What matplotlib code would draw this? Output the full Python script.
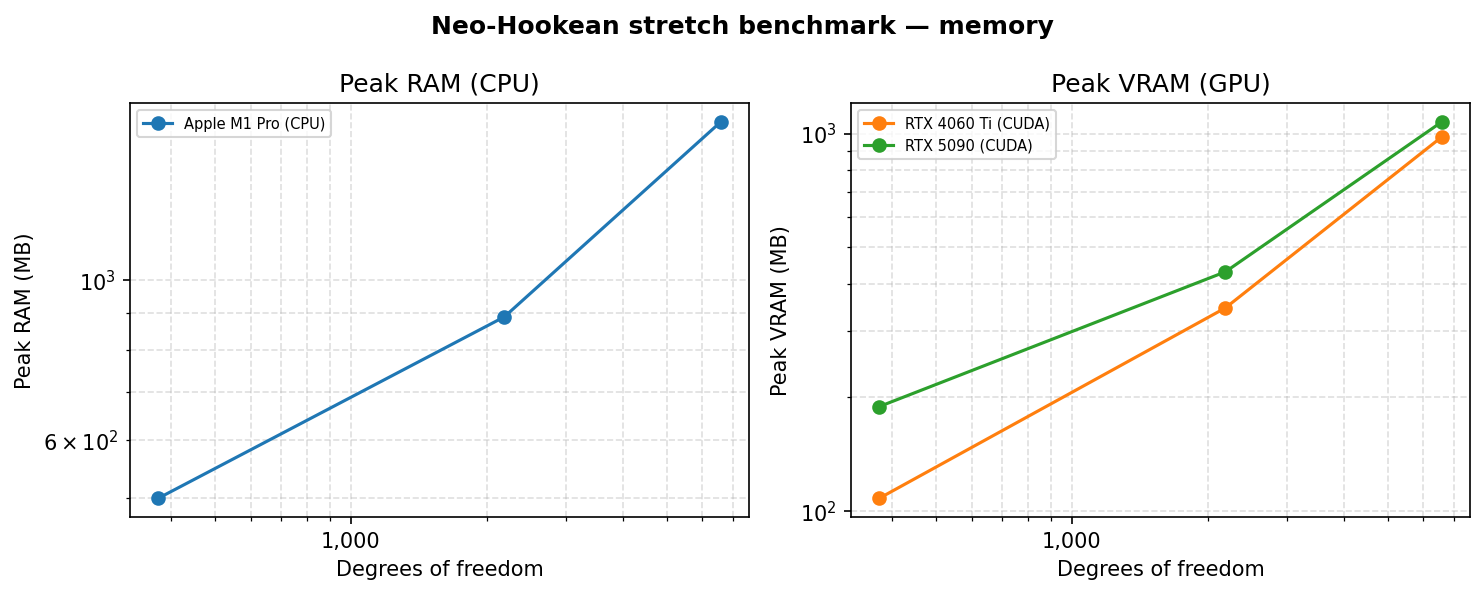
import matplotlib
matplotlib.use("Agg")
import matplotlib.pyplot as plt
from matplotlib.ticker import StrMethodFormatter

# Degrees of freedom for the three meshes
dofs = [375, 2187, 6591]

# Peak memory (MB)
cpu_ram_m1 = [499, 889, 1654]
gpu_vram_4060 = [108, 345, 980]
gpu_vram_5090 = [189, 430, 1074]

fig, axes = plt.subplots(1, 2, figsize=(10, 4), dpi=150)

ax = axes[0]
ax.plot(dofs, cpu_ram_m1, marker='o', color='tab:blue', label='Apple M1 Pro (CPU)')
ax.set_xscale('log')
ax.set_yscale('log')
ax.set_title('Peak RAM (CPU)')
ax.set_xlabel('Degrees of freedom')
ax.set_ylabel('Peak RAM (MB)')
ax.grid(True, which='both', ls='--', alpha=0.4)
ax.legend(fontsize=7, loc='upper left')
ax.xaxis.set_major_formatter(StrMethodFormatter('{x:,.0f}'))

ax = axes[1]
ax.plot(dofs, gpu_vram_4060, marker='o', color='tab:orange', label='RTX 4060 Ti (CUDA)')
ax.plot(dofs, gpu_vram_5090, marker='o', color='tab:green', label='RTX 5090 (CUDA)')
ax.set_xscale('log')
ax.set_yscale('log')
ax.set_title('Peak VRAM (GPU)')
ax.set_xlabel('Degrees of freedom')
ax.set_ylabel('Peak VRAM (MB)')
ax.grid(True, which='both', ls='--', alpha=0.4)
ax.legend(fontsize=7, loc='upper left')
ax.xaxis.set_major_formatter(StrMethodFormatter('{x:,.0f}'))

fig.suptitle('Neo-Hookean stretch benchmark — memory', fontweight='bold')
fig.tight_layout()
fig.savefig('out.png', dpi=150, bbox_inches='tight')
